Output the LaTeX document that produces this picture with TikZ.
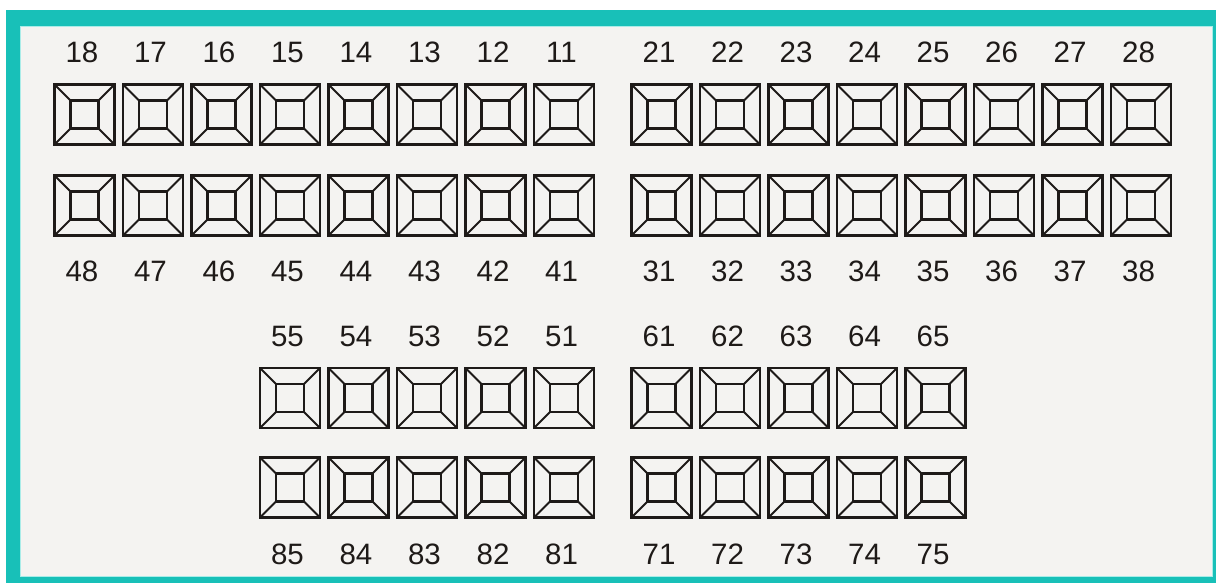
\documentclass[tikz,border=0pt]{standalone}
\usepackage{fontspec}
\setmainfont{Liberation Sans}
\usetikzlibrary{calc}
\definecolor{frameteal}{RGB}{24,192,184}
\definecolor{framelight}{RGB}{170,236,232}
\definecolor{panelbg}{RGB}{244,243,241}
\definecolor{ink}{RGB}{30,26,24}
\tikzset{
  pad/.style={draw=ink, line width=2.8pt, rectangle, minimum size=60pt, inner sep=0pt,
    path picture={
      \coordinate (pc) at (path picture bounding box.center);
      \draw[ink, line width=1.9pt]
        (path picture bounding box.north west) -- ($(pc)+(-14,-14)$)
        (path picture bounding box.north east) -- ($(pc)+(14,-14)$)
        (path picture bounding box.south west) -- ($(pc)+(-14,14)$)
        (path picture bounding box.south east) -- ($(pc)+(14,14)$);
      \draw[ink, line width=2.8pt] ($(pc)+(-14,-14)$) rectangle ($(pc)+(14,14)$);
    }},
  lbl/.style={inner sep=0pt, anchor=base, text=ink, font=\fontsize{29.5}{31}\selectfont}
}
\begin{document}
\begin{tikzpicture}[x=1pt,y=-1pt]
\useasboundingbox (0,0) rectangle (1216,583);
\fill[white] (0,0) rectangle (1216,583);
\fill[frameteal] (6,10) rectangle (1216,583);
\fill[panelbg] (20,26) rectangle (1213,577);
\draw[framelight, line width=1.2pt] (20.6,26.6) rectangle (1212.4,576.4);
% upper left group
\foreach \lab [count=\i from 0] in {18,17,16,15,14,13,12,11} {
  \node[pad] (p\lab) at ({84.5+68.5*\i},114.5) {};
  \node[lbl] (l\lab) at ({82+68.5*\i},63) {\lab};
}
\foreach \lab [count=\i from 0] in {48,47,46,45,44,43,42,41} {
  \node[pad] (p\lab) at ({84.5+68.5*\i},205.5) {};
  \node[lbl] (l\lab) at ({82+68.5*\i},281) {\lab};
}
% upper right group
\foreach \lab [count=\i from 0] in {21,22,23,24,25,26,27,28} {
  \node[pad] (p\lab) at ({661.5+68.5*\i},114.5) {};
  \node[lbl] (l\lab) at ({659+68.5*\i},63) {\lab};
}
\foreach \lab [count=\i from 0] in {31,32,33,34,35,36,37,38} {
  \node[pad] (p\lab) at ({661.5+68.5*\i},205.5) {};
  \node[lbl] (l\lab) at ({659+68.5*\i},281) {\lab};
}
% lower left group
\foreach \lab [count=\i from 3] in {55,54,53,52,51} {
  \node[pad] (p\lab) at ({84.5+68.5*\i},398) {};
  \node[lbl] (l\lab) at ({82+68.5*\i},346) {\lab};
}
\foreach \lab [count=\i from 3] in {85,84,83,82,81} {
  \node[pad] (p\lab) at ({84.5+68.5*\i},487.5) {};
  \node[lbl] (l\lab) at ({82+68.5*\i},564) {\lab};
}
% lower right group
\foreach \lab [count=\i from 0] in {61,62,63,64,65} {
  \node[pad] (p\lab) at ({661.5+68.5*\i},398) {};
  \node[lbl] (l\lab) at ({659+68.5*\i},346) {\lab};
}
\foreach \lab [count=\i from 0] in {71,72,73,74,75} {
  \node[pad] (p\lab) at ({661.5+68.5*\i},487.5) {};
  \node[lbl] (l\lab) at ({659+68.5*\i},564) {\lab};
}
\end{tikzpicture}
\end{document}
